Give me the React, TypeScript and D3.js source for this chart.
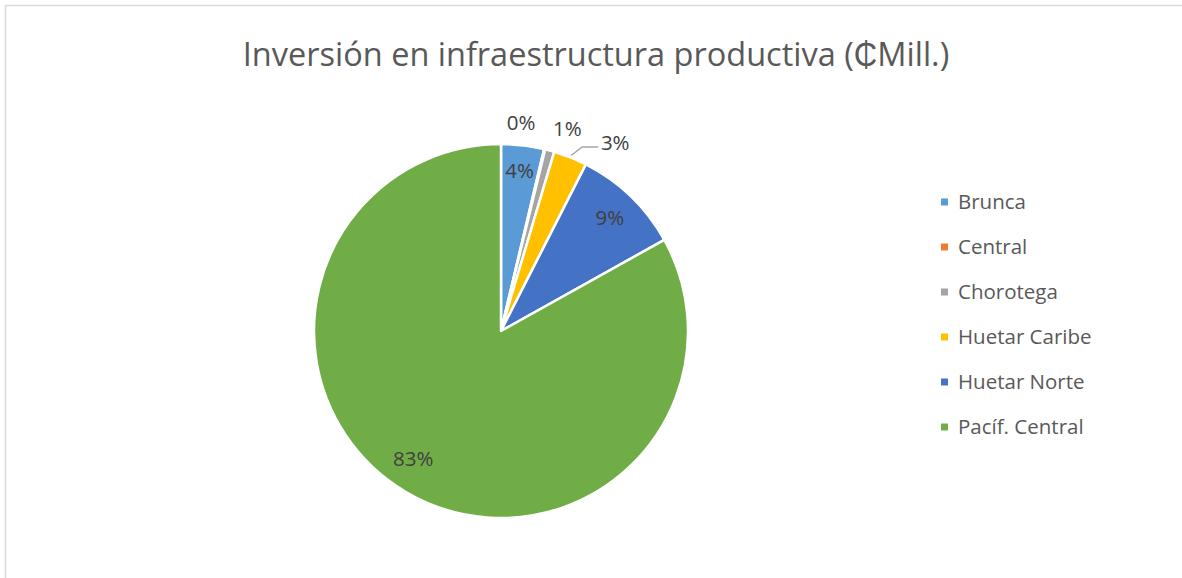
import React from "react";
import * as d3 from "d3";

const categories = ["Brunca", "Central", "Chorotega", "Huetar Caribe", "Huetar Norte", "Pacíf. Central"];
const values = [3.7, 0.1, 0.8, 2.9, 9.4, 83.1];
const colors = ["#5B9BD5", "#ED7D31", "#A5A5A5", "#FFC000", "#4472C4", "#70AD47"];
const title = "Inversión en infraestructura productiva (₵Mill.)";

// label placement: inside or outside, with angle nudge (degrees) and radius
const labelInside = [true, false, false, false, true, true];
const labelNudge = [0, -8, 3, 9.5, 0, 4];
const labelRadiusFactor = [0.86, 1, 1, 1, 0.84, 0.83];
const outsideOffset = [0, 22, 26, 33, 0, 0];

const W = 1182;
const H = 578;
const cx = 501;
const cy = 331;
const R = 187;
const FONT = "'Open Sans', sans-serif";

export default function App() {
  const total = d3.sum(values);
  const pie = d3.pie<number>().sort(null).value((d) => d);
  const arcs = pie(values);
  const arc = d3.arc<d3.PieArcDatum<number>>().innerRadius(0).outerRadius(R);

  const legendY = d3.scalePoint<string>().domain(categories).range([202, 427]);

  return (
    <svg
      width={W}
      height={H}
      style={{ position: "absolute", left: 0, top: 0, display: "block", background: "#fff" }}
    >
      <rect x={5.5} y={5.5} width={1300} height={700} fill="#fff" stroke="#D9D9D9" strokeWidth={1.5} />
      <text x={596} y={66} textAnchor="middle" fontFamily={FONT} fontSize={32.5} fill="#595959">
        {title}
      </text>
      <g transform={`translate(${cx},${cy})`}>
        {arcs.map((a, i) => (
          <path key={i} d={arc(a) || ""} fill={colors[i]} stroke="#fff" strokeWidth={2.5} strokeLinejoin="round" />
        ))}
        {arcs.map((a, i) => {
          const pct = Math.round((values[i] / total) * 100) + "%";
          const mid = (a.startAngle + a.endAngle) / 2;
          const ang = mid + (labelNudge[i] * Math.PI) / 180;
          if (labelInside[i]) {
            const rr = R * labelRadiusFactor[i];
            const x = Math.sin(ang) * rr;
            const y = -Math.cos(ang) * rr;
            return (
              <text key={i} x={x} y={y} dy="0.35em" textAnchor="middle" fontFamily={FONT} fontSize={20.5} fill="#404040">
                {pct}
              </text>
            );
          }
          const rr = R + outsideOffset[i];
          const x = Math.sin(ang) * rr;
          const y = -Math.cos(ang) * rr;
          let leader = null;
          if (categories[i] === "Huetar Caribe") {
            const sx = Math.sin(mid) * (R + 2);
            const sy = -Math.cos(mid) * (R + 2);
            const ex = x - 17;
            const ey = y + 4;
            leader = (
              <polyline
                points={`${sx},${sy} ${sx + 11},${ey} ${ex},${ey}`}
                fill="none"
                stroke="#A6A6A6"
                strokeWidth={1.5}
              />
            );
          }
          return (
            <g key={i}>
              {leader}
              <text x={x} y={y} dy="0.35em" textAnchor="middle" fontFamily={FONT} fontSize={20.5} fill="#404040">
                {pct}
              </text>
            </g>
          );
        })}
      </g>
      <g>
        {categories.map((c, i) => (
          <g key={c} transform={`translate(941,${legendY(c)})`}>
            <rect x={0} y={-3.5} width={7} height={7} fill={colors[i]} />
            <text x={17} y={0} dy="0.35em" fontFamily={FONT} fontSize={20.5} fill="#595959">
              {c}
            </text>
          </g>
        ))}
      </g>
    </svg>
  );
}
